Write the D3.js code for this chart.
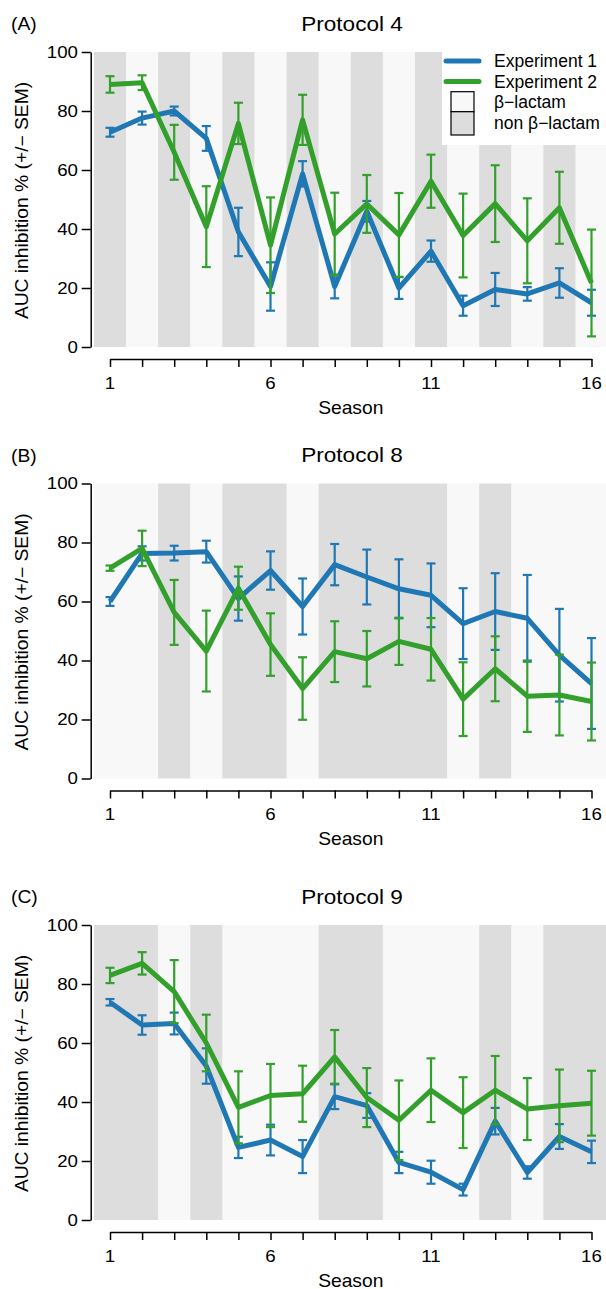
<!DOCTYPE html>
<html>
<head>
<meta charset="utf-8">
<script src="https://cdn.jsdelivr.net/npm/d3@7"></script>
<style>
  body { margin: 0; background: #fff; }
  text { font-family: "Liberation Sans", Arial, sans-serif; fill: #000; }
</style>
</head>
<body>
<div id="chart"></div>
<script>
// seasons and tick labels
const seasons = d3.range(1, 17);
const seasonTicks = [1, 6, 11, 16];
const yTicks = [0, 20, 40, 60, 80, 100];

const titles = ["Protocol 4", "Protocol 8", "Protocol 9"];
const panelLabels = ["(A)", "(B)", "(C)"];

// antibiotic class per season: 1 = beta-lactam, 0 = non beta-lactam
const classA = [0, 1, 0, 1, 0, 1, 0, 1, 0, 1, 0, 1, 0, 1, 0, 1];
const classB = [1, 1, 0, 1, 0, 0, 1, 0, 0, 0, 0, 1, 0, 1, 1, 1];
const classC = [0, 0, 1, 0, 1, 1, 1, 0, 0, 1, 1, 1, 0, 1, 0, 0];

// mean AUC inhibition % and SEM
const exp1A = [72.8, 77.6, 80.0, 70.7, 39.0, 20.5, 58.7, 20.5, 46.0, 20.0, 32.5, 14.0, 19.5, 18.0, 21.7, 15.0];
const sem1A = [1.5, 2.2, 1.5, 4.2, 8.2, 8.2, 4.3, 4.0, 3.5, 3.7, 3.6, 3.4, 5.6, 2.3, 5.0, 4.4];
const exp2A = [89.0, 89.6, 66.0, 40.8, 75.8, 34.5, 77.0, 38.3, 48.5, 38.0, 56.2, 37.8, 48.6, 36.0, 47.2, 21.7];
const sem2A = [2.8, 2.5, 9.3, 13.7, 7.0, 16.2, 8.5, 14.0, 9.8, 14.2, 9.0, 14.2, 13.0, 14.4, 12.2, 18.1];

const exp1B = [60.0, 76.3, 76.4, 76.9, 61.0, 70.5, 58.3, 72.5, 68.3, 64.3, 62.1, 52.5, 56.6, 54.3, 41.8, 32.2];
const sem1B = [1.5, 2.4, 2.5, 3.7, 7.5, 6.5, 9.5, 7.0, 9.3, 10.0, 10.8, 12.0, 13.0, 14.7, 15.7, 15.4];
const exp2B = [71.3, 78.0, 56.3, 43.2, 64.5, 45.4, 30.5, 43.0, 40.6, 46.5, 43.8, 26.9, 37.2, 27.9, 28.3, 26.1];
const sem2B = [0.9, 6.0, 11.0, 13.7, 7.3, 10.6, 10.6, 10.3, 9.4, 8.0, 10.6, 12.5, 11.0, 12.1, 13.7, 13.2];

const exp1C = [73.8, 66.1, 66.6, 52.2, 24.6, 27.1, 21.5, 41.8, 38.8, 19.5, 16.2, 10.3, 33.5, 16.1, 28.3, 23.1];
const sem1C = [1.1, 3.3, 3.7, 6.0, 3.6, 5.2, 5.6, 4.2, 4.2, 3.6, 3.9, 2.0, 4.5, 2.1, 4.2, 3.8];
const exp2C = [82.9, 87.0, 77.4, 60.0, 38.2, 42.2, 42.8, 55.3, 41.5, 33.8, 44.0, 36.4, 44.0, 37.6, 38.7, 39.6];
const sem2C = [2.6, 3.8, 10.7, 9.6, 12.2, 10.7, 9.5, 9.1, 10.0, 13.5, 10.8, 12.0, 11.6, 10.5, 12.3, 11.0];

const seriesNames = ["Experiment 1", "Experiment 2"];
const classNames = ["\u03b2\u2212lactam", "non \u03b2\u2212lactam"];

const blue = "#1f78b4", green = "#33a02c";
const lightBg = "#f8f8f8", darkBg = "#dddddd";

const panels = [
    { cls: classA, means: [exp1A, exp2A], sems: [sem1A, sem2A], top: 52, legend: true },
    { cls: classB, means: [exp1B, exp2B], sems: [sem1B, sem2B], top: 483.5, legend: false },
    { cls: classC, means: [exp1C, exp2C], sems: [sem1C, sem2C], top: 925, legend: false }
];

const W = 606, H = 1289;
const plotH = 295;
const stretch = 1.1; // text in the figure is slightly wide

const svg = d3.select("#chart").append("svg")
    .attr("width", W)
    .attr("height", H);

svg.append("rect").attr("width", W).attr("height", H).attr("fill", "#fff");

const x = d3.scaleLinear().domain([1, 16]).range([110, 591.5]);

// text drawn a bit wider, like the original
function label(g, px, py, str, size, anchor, rotate, sx) {
    const t = g.append("text")
        .attr("transform", `translate(${px},${py})` + (rotate ? ` rotate(${rotate})` : "") + ` scale(${sx || stretch},1)`)
        .attr("text-anchor", anchor || "start")
        .attr("dominant-baseline", "central")
        .attr("font-size", size)
        .text(str);
    return t;
}

panels.forEach((p, i) => {
    const y = d3.scaleLinear().domain([0, 100]).range([p.top + plotH, p.top]);
    const g = svg.append("g");

    // background bands, one per season
    g.selectAll("rect.band")
        .data(seasons)
        .enter()
        .append("rect")
        .attr("class", "band")
        .attr("x", d => x(d - 0.5))
        .attr("width", x(2) - x(1) + 0.5)
        .attr("y", y(100))
        .attr("height", y(0) - y(100))
        .attr("fill", d => p.cls[d - 1] ? lightBg : darkBg);

    // y axis
    const yAxis = g.append("g")
        .attr("transform", "translate(90.7,0)")
        .call(d3.axisLeft(y).tickValues(yTicks).tickSize(9).tickPadding(3).tickSizeOuter(0));
    yAxis.select(".domain").attr("stroke", "#000").attr("stroke-width", 1.5);
    yAxis.selectAll(".tick line").attr("stroke", "#000").attr("stroke-width", 1.5);
    yAxis.selectAll(".tick text").remove();
    yTicks.forEach(v => label(g, 78, y(v), v, 17, "end"));

    // x axis (offset below the plot)
    const xAxis = g.append("g")
        .attr("transform", `translate(0,${y(0) + 12})`)
        .call(d3.axisBottom(x).tickValues(seasons).tickSize(8).tickSizeOuter(0).tickFormat(""));
    xAxis.select(".domain").attr("stroke", "#000").attr("stroke-width", 1.5);
    xAxis.selectAll(".tick line").attr("stroke", "#000").attr("stroke-width", 1.5);
    seasonTicks.forEach(s => label(g, x(s), y(0) + 36, s, 17, "middle"));

    label(g, (x(1) + x(16)) / 2, y(0) + 60.5, "Season", 17.5, "middle");
    label(g, 22, (y(0) + y(100)) / 2 + 1, "AUC inhibition % (+/\u2212 SEM)", 17.5, "middle", -90);

    label(g, 352, p.top - 28, titles[i], 20.5, "middle");
    label(g, 11, p.top - 28, panelLabels[i], 17.5, "start");

    // series: line + error bars
    p.means.forEach((m, k) => {
        const col = k === 0 ? blue : green;
        const sem = p.sems[k];
        const pts = seasons.map((s, j) => ({ s: s, m: m[j], e: sem[j] }));

        g.append("path")
            .datum(pts)
            .attr("fill", "none")
            .attr("stroke", col)
            .attr("stroke-width", 5)
            .attr("stroke-linejoin", "round")
            .attr("d", d3.line().x(d => x(d.s)).y(d => y(d.m)));

        const eb = g.append("g").attr("stroke", col).attr("stroke-width", 2.2);
        eb.selectAll("line.v").data(pts).enter().append("line")
            .attr("x1", d => x(d.s)).attr("x2", d => x(d.s))
            .attr("y1", d => y(d.m + d.e)).attr("y2", d => y(d.m - d.e));
        eb.selectAll("line.hi").data(pts).enter().append("line")
            .attr("x1", d => x(d.s) - 4.5).attr("x2", d => x(d.s) + 4.5)
            .attr("y1", d => y(d.m + d.e)).attr("y2", d => y(d.m + d.e));
        eb.selectAll("line.lo").data(pts).enter().append("line")
            .attr("x1", d => x(d.s) - 4.5).attr("x2", d => x(d.s) + 4.5)
            .attr("y1", d => y(d.m - d.e)).attr("y2", d => y(d.m - d.e));
    });

    if (p.legend) {
        const lg = g.append("g");
        lg.append("rect")
            .attr("x", 442).attr("y", y(100))
            .attr("width", W - 442).attr("height", 145 - y(100))
            .attr("fill", "#fff");
        const rows = [61, 81.5, 102, 123];
        seriesNames.forEach((n, k) => {
            lg.append("line")
                .attr("x1", 446).attr("x2", 479)
                .attr("y1", rows[k]).attr("y2", rows[k])
                .attr("stroke", k === 0 ? blue : green)
                .attr("stroke-width", 5)
                .attr("stroke-linecap", "round");
            label(lg, 494, rows[k], n, 17.5, "start", 0, 1.0);
        });
        classNames.forEach((n, k) => {
            lg.append("rect")
                .attr("x", 451).attr("y", k === 0 ? 91.7 : 111.7)
                .attr("width", 23).attr("height", k === 0 ? 20 : 23.3)
                .attr("fill", k === 0 ? lightBg : darkBg)
                .attr("stroke", "#000").attr("stroke-width", 1.2);
            label(lg, 494, rows[k + 2], n, 17.5, "start", 0, 1.0);
        });
    }
});
</script>
</body>
</html>
